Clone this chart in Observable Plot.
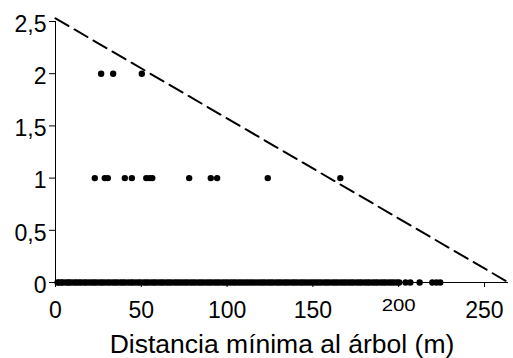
<!DOCTYPE html>
<html><head><meta charset="utf-8">
<script src="https://cdn.jsdelivr.net/npm/d3@7"></script>
<script src="https://cdn.jsdelivr.net/npm/@observablehq/plot@0.6"></script>
<style>body{margin:0;background:#fff;}</style>
</head><body><div id="chart"></div>
<script>
// Distances (m) of observations with count 0, 1 and 2
const zeroX = [1.2, 2.1, 3.5, 4.2, 5.9, 7.3, 8.1, 9.6, 11.2, 12.4, 13.9, 15.1, 16.8, 18.0, 19.7, 21.3, 22.6, 24.0, 25.8, 27.1, 28.5, 30.2, 31.6, 33.3, 34.7, 36.0, 37.8, 39.2, 40.5, 42.3, 43.9, 45.1, 46.8, 48.4, 49.7, 51.5, 52.8, 54.2, 55.9, 57.3, 58.6, 60.4, 61.8, 63.1, 64.9, 66.2, 67.7, 69.5, 70.9, 72.4, 74.0, 75.6, 76.9, 78.7, 80.1, 81.6, 83.4, 84.8, 86.3, 88.0, 89.5, 90.9, 92.6, 94.1, 95.5, 97.3, 98.8, 100.2, 101.9, 103.4, 104.8, 106.5, 108.0, 109.6, 111.2, 112.7, 114.3, 115.8, 117.4, 119.1, 120.6, 122.0, 123.8, 125.3, 126.7, 128.5, 130.0, 131.4, 133.2, 134.6, 136.1, 137.9, 139.3, 140.8, 142.6, 144.0, 145.5, 147.2, 148.8, 150.3, 151.9, 153.4, 154.9, 156.7, 158.1, 159.6, 161.4, 162.9, 164.3, 166.0, 167.6, 169.1, 170.8, 172.3, 173.7, 175.5, 177.0, 178.4, 180.2, 181.7, 183.1, 184.9, 186.4, 187.8, 189.6, 191.1, 192.5, 194.3, 195.8, 197.2, 199.0, 200.3, 204.0, 206.8, 212.2, 219.6, 222.0, 224.2];
const oneX = [22.9, 28.7, 30.5, 40.4, 44.5, 52.9, 54.8, 56.4, 77.9, 90.5, 94.2, 123.7, 166.0];
const twoX = [26.6, 33.6, 50.3];
// Dashed upper-limit line
const limitX = [0, 264];
const limitY = [2.53, 0];
// Axes
const xTicks = [0, 50, 100, 150, 200, 250];
const xTickLabels = ["0", "50", "100", "150", "200", "250"];
const yTicks = [0, 0.5, 1, 1.5, 2, 2.5];
const yTickLabels = ["0", "0,5", "1", "1,5", "2", "2,5"];
const xLabel = "Distancia mínima al árbol (m)";

const points = [
  ...zeroX.map(x => ({x, y: 0})),
  ...oneX.map(x => ({x, y: 1})),
  ...twoX.map(x => ({x, y: 2}))
];
const limit = limitX.map((x, i) => ({x, y: limitY[i]}));

const chart = Plot.plot({
  width: 513, height: 358,
  marginLeft: 55, marginRight: 5, marginTop: 21, marginBottom: 76,
  style: {fontFamily: "'Liberation Sans', Arial, sans-serif", fontSize: "23px", background: "#fff", color: "#000"},
  x: {domain: [0, 264]},
  y: {domain: [0, 2.5]},
  marks: [
    Plot.axisX({ticks: xTicks, tickFormat: d => xTickLabels[xTicks.indexOf(d)], tickSize: 5, tickPadding: 14, fontSize: 23,
      label: xLabel, labelAnchor: "center", labelOffset: 70, labelArrow: "none"}),
    Plot.axisY({ticks: yTicks, tickFormat: d => yTickLabels[yTicks.indexOf(d)], tickSize: 6, tickPadding: 3, fontSize: 23, label: null}),
    Plot.ruleX([0], {y1: 0, y2: 2.5, stroke: "#000", strokeWidth: 1}),
    Plot.ruleY([0], {x1: 0, x2: 264, stroke: "#000", strokeWidth: 1}),
    Plot.line(limit, {x: "x", y: "y", stroke: "#000", strokeWidth: 2, strokeDasharray: "15,7", clip: false}),
    Plot.dot(points, {x: "x", y: "y", r: 3.2, fill: "#000", stroke: "none"})
  ]
});
document.getElementById("chart").appendChild(chart);
const svg = d3.select(chart);
svg.selectAll('[aria-label="x-axis label"] text').style("font-size", "26.5px");
svg.selectAll('[aria-label="y-axis tick label"] text').attr("dy", "3");
svg.selectAll('[aria-label="x-axis tick label"] text').each(function() {
  if (this.textContent === "200") {
    d3.select(this).style("font-size", "16px").attr("y", "9").attr("dy", null)
      .attr("textLength", 34).attr("lengthAdjust", "spacingAndGlyphs");
  }
});
</script>
</body></html>
